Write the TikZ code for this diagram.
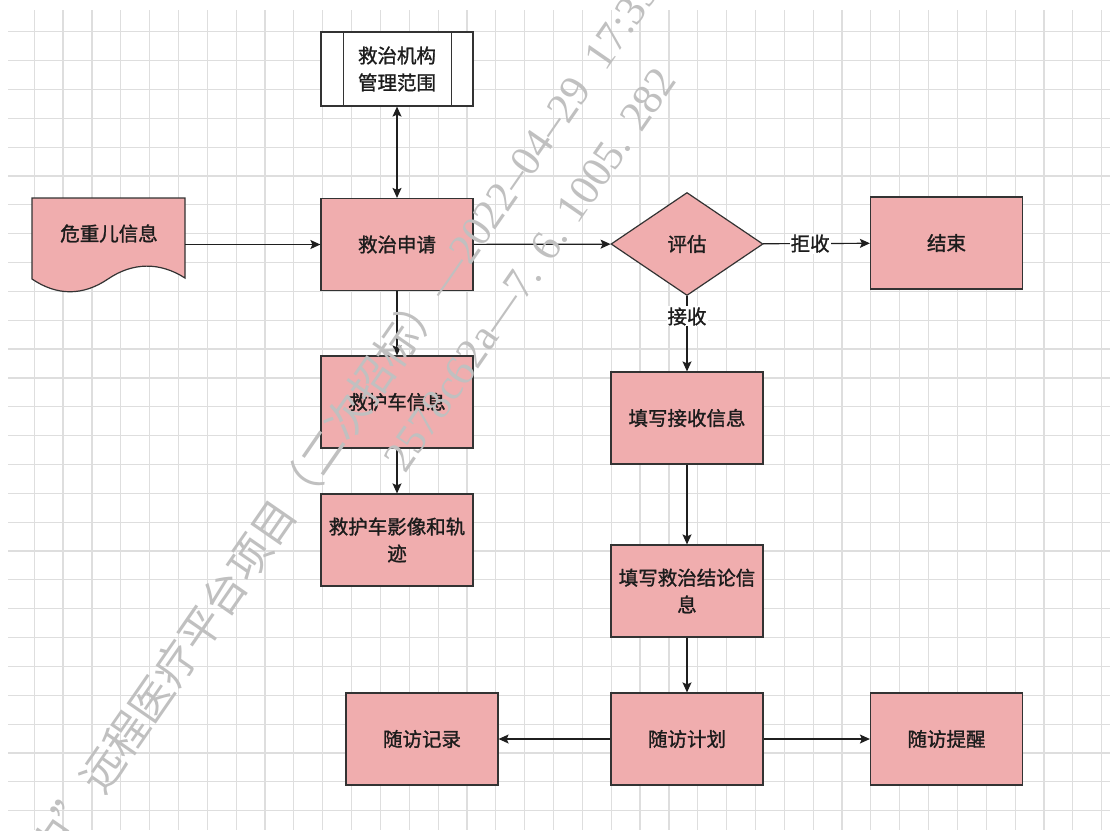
\documentclass[tikz,border=0pt]{standalone}
\usepackage{fontspec}
\setmainfont{Noto Sans CJK SC}
\newfontfamily\nf[FakeBold=1.3]{Noto Sans CJK SC}
\newfontfamily\wmcjk{Noto Sans CJK SC}
\newfontfamily\wmlat{Liberation Serif}
\usetikzlibrary{shapes.geometric,arrows.meta}
\definecolor{pinkfill}{RGB}{240,173,174}
\definecolor{edgec}{RGB}{51,51,51}
\definecolor{gridA}{RGB}{222,222,222}
\definecolor{wmgray}{RGB}{192,192,192}
\definecolor{txt}{RGB}{28,28,28}
\begin{document}
\begin{tikzpicture}[x=1pt,y=-1pt,
  lbltext/.style={font=\nf\fontsize{19.5}{27}\selectfont, text=txt, align=center},
  box/.style={lbltext, draw=edgec, line width=1.2pt, fill=pinkfill, minimum width=152pt, minimum height=92pt, inner sep=0pt},
  procbox/.style={box, fill=white, minimum height=74pt},
  dia/.style={lbltext, diamond, draw=edgec, line width=1.2pt, fill=pinkfill, minimum width=152pt, minimum height=103pt, inner sep=0pt},
  arr/.style={draw=black!88, line width=1.2pt, -{Stealth[length=10pt,width=9pt,inset=2pt]}},
  arrboth/.style={draw=black!88, line width=1.2pt, {Stealth[length=10pt,width=9pt,inset=2pt]}-{Stealth[length=10pt,width=9pt,inset=2pt]}},
  lbl/.style={lbltext, fill=white, inner sep=1pt},
  wm/.style={font=\fontsize{43}{43}\selectfont, text=wmgray, inner sep=0pt}
]
\fill[white] (0,0) rectangle (1110,830);
\useasboundingbox (0,0) rectangle (1110,830);
% grid
\foreach \i in {0,...,37} {
  \draw[gridA, line width=1.2pt] ({34.2+28.85*\i},10) -- ({34.2+28.85*\i},830);
}
\foreach \i in {0,...,27} {
  \draw[gridA, line width=1.2pt] (8,{31.7+28.85*\i}) -- (1110,{31.7+28.85*\i});
}
% document shape
\draw[edgec, line width=1.2pt, fill=pinkfill] (32,198) -- (185,198) -- (185,278)
  .. controls (160,262) and (133,262) .. (108,279)
  .. controls (83,296) and (57,296) .. (32,279) -- cycle;
\node[lbltext, minimum width=153pt, minimum height=81pt, inner sep=0pt] (doc) at (108.5,238.5) {};
\node[lbltext] (doctext) at (109,233.5) {危重儿信息};
% nodes
\node[procbox] (jzjg) at (397,69) {救治机构\\管理范围};
\draw[edgec, line width=1.2pt] ([xshift=23pt]jzjg.north west) -- ([xshift=23pt]jzjg.south west);
\draw[edgec, line width=1.2pt] ([xshift=-22pt]jzjg.north east) -- ([xshift=-22pt]jzjg.south east);
\node[box] (jzsq) at (397,244.5) {救治申请};
\node[box] (jhc) at (397,402) {救护车信息};
\node[box] (jhyx) at (397,540) {救护车影像和轨\\迹};
\node[dia] (pg) at (687,244) {评估};
\node[box] (js) at (946.5,243) {结束};
\node[box] (txjs) at (687,418) {填写接收信息};
\node[box] (txjl) at (687,591) {填写救治结论信\\息};
\node[box] (sfjh) at (687,739) {随访计划};
\node[box] (sfjl) at (422,739) {随访记录};
\node[box] (sftx) at (946.5,739) {随访提醒};
% connectors
\draw[arr] (doc.east |- jzsq) -- (jzsq);
\draw[arrboth] (jzjg) -- (jzsq);
\draw[arr] (jzsq) -- (pg);
\draw[arr] (pg) -- node[lbl, pos=0.44] {拒收} (js);
\draw[arr] (pg) -- node[lbl, pos=0.27] {接收} (txjs);
\draw[arr] (jzsq) -- (jhc);
\draw[arr] (jhc) -- (jhyx);
\draw[arr] (txjs) -- (txjl);
\draw[arr] (txjl) -- (sfjh);
\draw[arr] (sfjh) -- (sfjl);
\draw[arr] (sfjh) -- (sftx);
% watermark
\begin{scope}
\clip (0,0) rectangle (1110,830);
\node[wm, anchor=west, rotate=55.3] (wm1) at (89.8,787.7) {\wmcjk 远程医疗平台项目（二次招标）\wmlat —2022–04–29\ \ 17:39};
\node[wm, anchor=east, rotate=55.3] (wm0) at (89.8,787.7) {\wmcjk 中”};
\node[wm, anchor=west, rotate=55.3] (wm2) at (393.7,466.7) {\wmlat 2578c62a—7. 6. 1005. 282};
\end{scope}
\end{tikzpicture}
\end{document}
